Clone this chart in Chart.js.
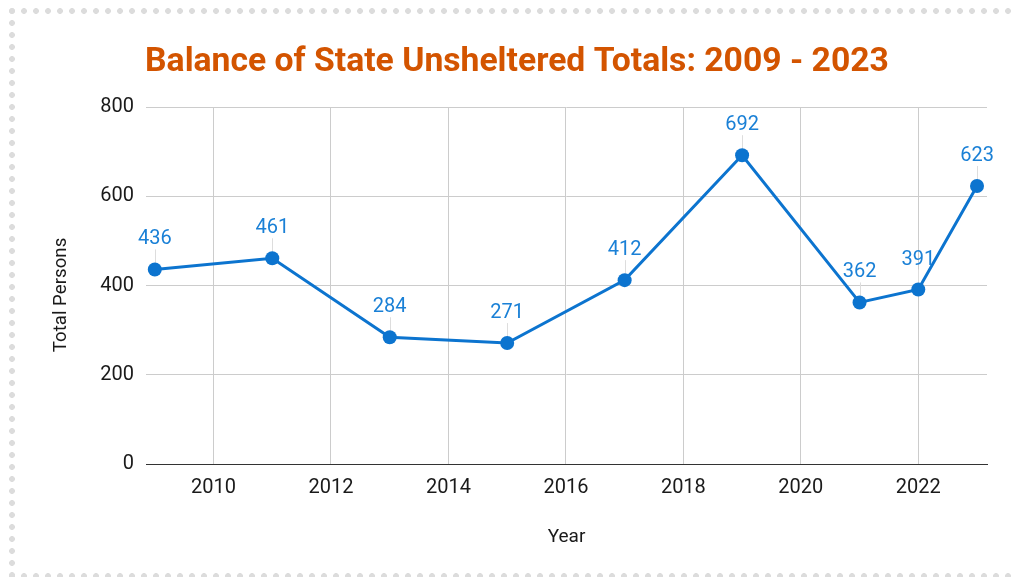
<!DOCTYPE html>
<html>
<head>
<meta charset="utf-8">
<script src="https://cdn.jsdelivr.net/npm/chart.js@4.4.0/dist/chart.umd.min.js"></script>
<style>
  html, body { margin: 0; padding: 0; background: #fff; overflow: hidden; }
  #wrap { position: relative; width: 1015px; height: 577px; }
  .dots { position: absolute; background-image: radial-gradient(circle at 6px 6px, #dcdcdc 2.6px, rgba(220,220,220,0) 3.2px); background-size: 12px 12px; }
  #top { left: 6px; top: 5px; width: 1009px; height: 12px; background-repeat: repeat-x; }
  #left { left: 6px; top: 5px; width: 12px; height: 572px; background-repeat: repeat-y; }
  #bottom { left: 6px; top: 570px; width: 1009px; height: 12px; background-repeat: repeat-x; }
  canvas { position: absolute; left: 0; top: 0; }
</style>
</head>
<body>
<div id="wrap">
  <div class="dots" id="top"></div>
  <div class="dots" id="left"></div>
  <div class="dots" id="bottom"></div>
  <canvas id="c" width="1015" height="577"></canvas>
</div>
<script>
const years = [2009, 2011, 2013, 2015, 2017, 2019, 2021, 2022, 2023];
const totals = [436, 461, 284, 271, 412, 692, 362, 391, 623];
const yearTicks = [2010, 2012, 2014, 2016, 2018, 2020, 2022];
const totalTicks = [0, 200, 400, 600, 800];
const chartTitle = 'Balance of State Unsheltered Totals: 2009 - 2023';
const xTitle = 'Year';
const yTitle = 'Total Persons';

const LINE = '#0c74cf';
const LABEL = '#1a80d6';

Chart.defaults.font.family = 'Roboto';

const labelPlugin = {
  id: 'pointLabels',
  beforeDatasetsDraw(chart) {
    const ctx = chart.ctx;
    const meta = chart.getDatasetMeta(0);
    ctx.save();
    ctx.strokeStyle = '#dddddd';
    ctx.lineWidth = 1;
    meta.data.forEach(pt => {
      ctx.beginPath();
      ctx.moveTo(Math.round(pt.x) + 0.5, pt.y - 6);
      ctx.lineTo(Math.round(pt.x) + 0.5, pt.y - 20);
      ctx.stroke();
    });
    ctx.restore();
  },
  afterDatasetsDraw(chart) {
    const ctx = chart.ctx;
    const meta = chart.getDatasetMeta(0);
    const data = chart.data.datasets[0].data;
    ctx.save();
    ctx.fillStyle = LABEL;
    ctx.font = '20px Roboto';
    ctx.textAlign = 'center';
    ctx.textBaseline = 'middle';
    meta.data.forEach((pt, i) => {
      ctx.fillText(String(data[i].y), pt.x, pt.y - 30);
    });
    ctx.restore();
  },
  afterDraw(chart) {
    // y-axis title, centred a little below the plot's middle as in the reference
    const ctx = chart.ctx;
    const area = chart.chartArea;
    ctx.save();
    ctx.fillStyle = '#1a1a1a';
    ctx.font = '18.7px Roboto';
    ctx.textAlign = 'center';
    ctx.textBaseline = 'middle';
    ctx.translate(61, (area.top + area.bottom) / 2 + 9.5);
    ctx.rotate(-Math.PI / 2);
    ctx.fillText(yTitle, 0, 0);
    ctx.restore();
  }
};

new Chart(document.getElementById('c'), {
  type: 'line',
  data: {
    datasets: [{
      data: years.map((y, i) => ({ x: y, y: totals[i] })),
      borderColor: LINE,
      backgroundColor: LINE,
      borderWidth: 3,
      pointRadius: 7,
      pointBorderWidth: 0,
      pointBackgroundColor: LINE,
      tension: 0,
      clip: false
    }]
  },
  options: {
    responsive: false,
    animation: false,
    layout: { padding: { left: 19, right: 0, top: 0, bottom: 0 } },
    plugins: {
      legend: { display: false },
      tooltip: { enabled: false },
      title: {
        display: true,
        text: chartTitle,
        color: '#d35400',
        font: { family: 'Roboto', size: 33.7, weight: 'bold' },
        padding: { top: 42, bottom: 24.56 }
      }
    },
    scales: {
      x: {
        type: 'linear',
        min: 2008.85,
        max: 2023.17,
        afterBuildTicks: s => { s.ticks = yearTicks.map(v => ({ value: v })); },
        ticks: {
          callback: v => String(v),
          font: { size: 20 },
          color: '#1a1a1a',
          padding: 12,
          maxRotation: 0
        },
        grid: { color: '#cccccc', drawTicks: false },
        border: { color: '#333', width: 1 },
        title: {
          display: true,
          text: xTitle,
          font: { size: 19 },
          color: '#1a1a1a',
          padding: { top: 0, bottom: 28.6 }
        },
        afterFit: s => { s.height = 113; }
      },
      y: {
        min: 0,
        max: 800,
        afterBuildTicks: s => { s.ticks = totalTicks.map(v => ({ value: v })); },
        ticks: {
          font: { size: 20 },
          color: '#1a1a1a',
          padding: 12
        },
        grid: {
          color: c => (c.tick && c.tick.value === 0) ? '#333' : '#cccccc',
          drawTicks: false
        },
        border: { display: false },
        title: { display: false },
        afterFit: s => { s.width = 127; }
      },
      yr: {
        position: 'right',
        display: true,
        grid: { display: false, drawTicks: false },
        ticks: { display: false },
        border: { display: false },
        afterFit: s => { s.width = 28; }
      }
    }
  },
  plugins: [labelPlugin]
});
</script>
</body>
</html>
